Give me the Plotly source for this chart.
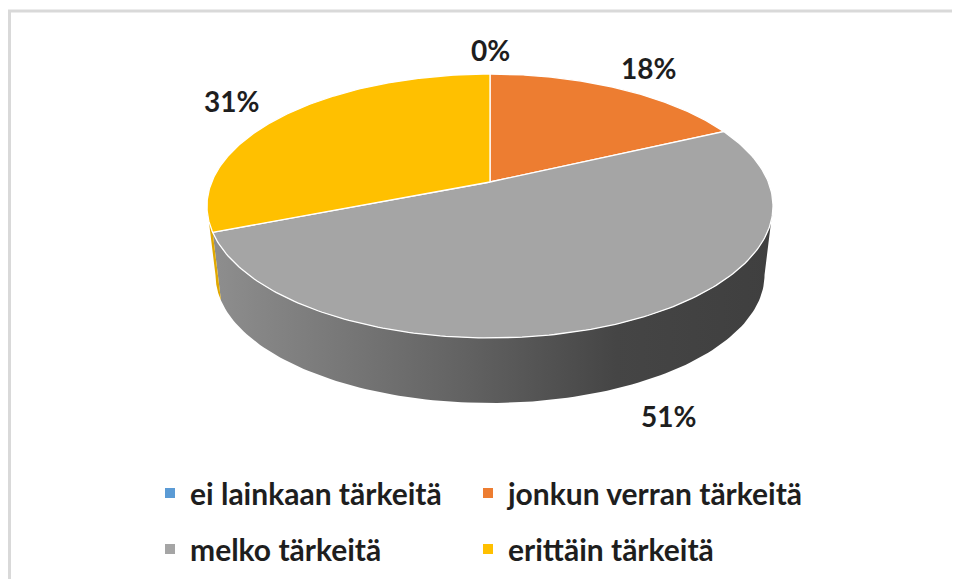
import numpy as np
import plotly.graph_objects as go

# Data
categories = ["ei lainkaan tärkeitä", "jonkun verran tärkeitä", "melko tärkeitä", "erittäin tärkeitä"]
values = [0, 18, 51, 31]
colors = ["#5b9bd5", "#ed7d31", "#a5a5a5", "#ffc000"]
side_colors = ["#4a84b8", "#c9682a", "#8a8a8a", "#e0a800"]

# 3D pie geometry (pixel space of the window)
CX, CY = 490, 182          # apex of the top face
A, B, E = 278.3, 127.6, 0.1818   # horizontal, vertical radius and perspective factor
DEPTH, S = 69.7, 0.97      # thickness and scale of the bottom face
W, H = 960, 579
OFF = 8                    # page body margin


def proj(theta, r=1.0, bottom=False):
    t = np.radians(theta)
    u = r * np.sin(t)
    v = r * np.cos(t)
    d = 1 + E * v
    s = S if bottom else 1.0
    x = CX + s * A * u / d
    y = CY + (DEPTH if bottom else 0) - s * B * v / d
    return x, y


total = sum(values)
starts = np.cumsum([0] + values[:-1]) / total * 360
ends = np.cumsum(values) / total * 360

# visible part of the side wall (front, between silhouette points)
vis_a = np.degrees(np.arccos(-E))
vis_b = 360 - vis_a

fig = go.Figure()

# side walls
for i in range(len(values)):
    a = max(starts[i], vis_a)
    b = min(ends[i], vis_b)
    if b <= a:
        continue
    th = np.linspace(a, b, 120)
    xt, yt = proj(th)
    xb, yb = proj(th[::-1], bottom=True)
    xs = np.concatenate([xt, xb, xt[:1]])
    ys = np.concatenate([yt, yb, yt[:1]])
    kw = dict(fillcolor=side_colors[i])
    if categories[i] == "melko tärkeitä":
        kw = dict(fillgradient=dict(type="horizontal",
                                    colorscale=[[0, "#8e8e8e"], [0.45, "#626262"],
                                                [0.72, "#454545"], [1, "#3f3f3f"]]))
    fig.add_trace(go.Scatter(x=xs, y=ys, mode="lines", fill="toself",
                             line=dict(width=0, color=side_colors[i]),
                             showlegend=False, hoverinfo="skip", **kw))

# top face slices
for i in range(len(values)):
    if values[i] == 0:
        continue
    th = np.linspace(starts[i], ends[i], 200)
    xa, ya = proj(th)
    xs = np.concatenate([[CX], xa, [CX]])
    ys = np.concatenate([[CY], ya, [CY]])
    fig.add_trace(go.Scatter(x=xs, y=ys, mode="lines", fill="toself",
                             fillcolor=colors[i], line=dict(color="white", width=1.3),
                             showlegend=False, name=categories[i],
                             hovertemplate=f"{categories[i]}: {values[i]}%<extra></extra>"))

# data labels, outside the slice; front ones pushed below the side wall
for i in range(len(values)):
    mid = (starts[i] + ends[i]) / 2
    lx, ly = proj(mid, 1.27)
    if np.cos(np.radians(mid)) < 0:
        ly = ly + 0.65 * DEPTH
    fig.add_annotation(x=float(lx), y=float(ly), text=f"{values[i]}%", showarrow=False,
                       font=dict(family="Lato", size=28, color="#1e1e1e", weight=700))

# legend: one small legend per entry, 2 x 2 grid
legend_names = ["legend", "legend2", "legend3", "legend4"]
legend_x = [150, 468, 150, 468]
legend_y = [493, 493, 549, 549]
for i, cat in enumerate(categories):
    fig.add_trace(go.Scatter(x=[None], y=[None], mode="markers", name=cat,
                             marker=dict(symbol="square", size=10, color=colors[i]),
                             legend=legend_names[i]))

legends = {}
for i, name in enumerate(legend_names):
    legends[name] = dict(orientation="h", x=(legend_x[i] - OFF) / W, xanchor="left",
                         y=1 - (legend_y[i] - OFF) / H, yanchor="middle",
                         font=dict(family="Lato", size=30, color="#1e1e1e", weight=700),
                         itemwidth=30, bgcolor="rgba(0,0,0,0)")

fig.add_shape(type="rect", xref="x", yref="y", x0=9.5, y0=11, x1=990, y1=620,
              line=dict(color="#d9d9d9", width=3))

fig.update_layout(
    width=W, height=H,
    margin=dict(l=0, r=0, t=0, b=0),
    paper_bgcolor="white", plot_bgcolor="white",
    xaxis=dict(range=[OFF, W + OFF], visible=False, fixedrange=True),
    yaxis=dict(range=[H + OFF, OFF], visible=False, fixedrange=True),
    showlegend=True,
    **legends,
)

fig.write_html("out.html")
